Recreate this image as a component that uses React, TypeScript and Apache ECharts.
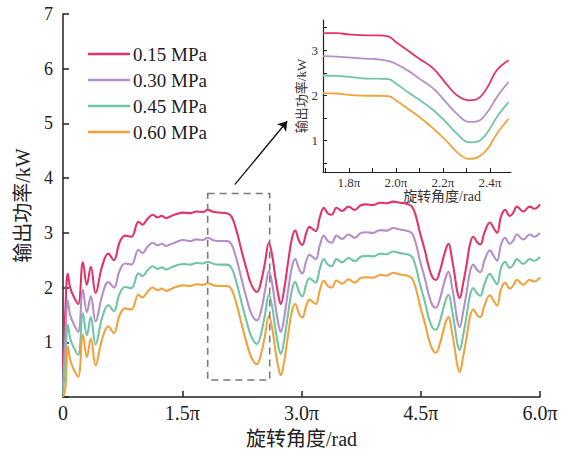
import React, { useEffect, useRef } from "react";
import * as echarts from "echarts";

const seriesNames = ["0.15 MPa", "0.30 MPa", "0.45 MPa", "0.60 MPa"];
const colors = ["#E2336C", "#B58FC9", "#71C5A6", "#F2A23C"];

// main chart x positions (units of π)
const mainX = [
  0.00, 0.03, 0.06, 0.09, 0.13, 0.19, 0.25, 0.30, 0.35, 0.41,
  0.49, 0.57, 0.64, 0.71, 0.78, 0.86, 0.95, 1.00, 1.06, 1.13,
  1.19, 1.24, 1.30, 1.35, 1.42, 1.51, 1.60, 1.68, 1.76, 1.82,
  1.90, 1.98, 2.06, 2.12, 2.19, 2.25, 2.31, 2.37, 2.44, 2.49,
  2.54, 2.59, 2.63, 2.67, 2.71, 2.74, 2.78, 2.83, 2.88, 2.92,
  2.97, 3.01, 3.06, 3.10, 3.14, 3.18, 3.23, 3.28, 3.33, 3.38,
  3.44, 3.51, 3.59, 3.67, 3.74, 3.82, 3.90, 3.99, 4.07, 4.15,
  4.24, 4.32, 4.39, 4.44, 4.49, 4.55, 4.60, 4.65, 4.69, 4.74,
  4.78, 4.82, 4.85, 4.89, 4.93, 4.96, 4.99, 5.03, 5.08, 5.12,
  5.16, 5.21, 5.25, 5.30, 5.37, 5.42, 5.46, 5.51, 5.56, 5.62,
  5.66, 5.71, 5.79, 5.87, 5.93, 6.00,
];

const pink = [
  0.55, 1.60, 2.25, 2.00, 1.85, 1.70, 2.46, 2.05, 2.38, 1.90,
  2.38, 2.62, 2.50, 2.82, 2.95, 2.93, 3.20, 3.15, 3.25, 3.33,
  3.28, 3.31, 3.27, 3.30, 3.34, 3.37, 3.36, 3.39, 3.38, 3.42,
  3.38, 3.37, 3.36, 3.30, 3.00, 2.65, 2.33, 2.05, 1.92, 2.10,
  2.45, 2.82, 2.60, 2.20, 1.85, 1.70, 1.95, 2.45, 2.90, 3.04,
  2.85, 2.78, 3.00, 3.11, 3.07, 3.03, 3.28, 3.46, 3.36, 3.33,
  3.46, 3.40, 3.48, 3.42, 3.50, 3.52, 3.51, 3.55, 3.54, 3.57,
  3.55, 3.53, 3.48, 3.30, 3.00, 2.69, 2.38, 2.18, 2.14, 2.30,
  2.52, 2.72, 2.80, 2.55, 2.20, 1.92, 1.81, 2.05, 2.45, 2.80,
  2.93, 2.83, 2.79, 3.00, 3.19, 3.08, 3.00, 3.30, 3.42, 3.31,
  3.36, 3.48, 3.39, 3.48, 3.44, 3.52,
];

const purple = [
  0.20, 1.10, 1.76, 1.50, 1.35, 1.19, 1.96, 1.55, 1.84, 1.38,
  1.84, 2.10, 2.00, 2.30, 2.44, 2.42, 2.69, 2.63, 2.74, 2.82,
  2.77, 2.80, 2.76, 2.79, 2.83, 2.87, 2.85, 2.88, 2.87, 2.91,
  2.86, 2.85, 2.85, 2.79, 2.48, 2.13, 1.80, 1.52, 1.40, 1.57,
  1.93, 2.30, 2.08, 1.68, 1.33, 1.19, 1.43, 1.93, 2.38, 2.52,
  2.34, 2.26, 2.49, 2.60, 2.56, 2.52, 2.77, 2.95, 2.85, 2.82,
  2.95, 2.89, 2.97, 2.91, 2.99, 3.01, 3.00, 3.05, 3.04, 3.09,
  3.06, 3.04, 2.99, 2.80, 2.49, 2.18, 1.87, 1.67, 1.63, 1.79,
  2.01, 2.21, 2.29, 2.04, 1.69, 1.40, 1.28, 1.53, 1.94, 2.29,
  2.42, 2.32, 2.28, 2.49, 2.68, 2.57, 2.49, 2.79, 2.91, 2.80,
  2.85, 2.97, 2.88, 2.97, 2.93, 3.00,
];

const green = [
  0.05, 0.70, 1.32, 1.07, 0.92, 0.77, 1.53, 1.13, 1.46, 0.96,
  1.44, 1.68, 1.57, 1.88, 2.01, 1.99, 2.26, 2.21, 2.31, 2.39,
  2.34, 2.37, 2.33, 2.36, 2.40, 2.43, 2.42, 2.45, 2.44, 2.47,
  2.43, 2.42, 2.42, 2.36, 2.05, 1.70, 1.38, 1.10, 0.97, 1.15,
  1.50, 1.87, 1.66, 1.26, 0.92, 0.79, 1.02, 1.51, 1.96, 2.10,
  1.92, 1.84, 2.06, 2.17, 2.13, 2.09, 2.34, 2.52, 2.42, 2.39,
  2.52, 2.46, 2.54, 2.48, 2.56, 2.58, 2.57, 2.62, 2.61, 2.66,
  2.63, 2.61, 2.56, 2.37, 2.06, 1.75, 1.45, 1.26, 1.23, 1.38,
  1.60, 1.80, 1.87, 1.62, 1.27, 0.98, 0.86, 1.10, 1.51, 1.86,
  1.99, 1.89, 1.85, 2.06, 2.25, 2.14, 2.06, 2.36, 2.47, 2.36,
  2.41, 2.52, 2.43, 2.52, 2.49, 2.56,
];

const orange = [
  0.00, 0.15, 0.92, 0.68, 0.52, 0.37, 1.14, 0.73, 1.07, 0.58,
  1.05, 1.29, 1.17, 1.49, 1.62, 1.60, 1.87, 1.82, 1.92, 2.00,
  1.95, 1.98, 1.94, 1.97, 2.01, 2.04, 2.03, 2.06, 2.05, 2.08,
  2.04, 2.03, 2.03, 1.97, 1.66, 1.31, 0.99, 0.72, 0.60, 0.78,
  1.12, 1.48, 1.27, 0.87, 0.53, 0.40, 0.63, 1.12, 1.57, 1.70,
  1.52, 1.45, 1.67, 1.78, 1.74, 1.70, 1.95, 2.13, 2.03, 2.00,
  2.13, 2.07, 2.15, 2.09, 2.17, 2.19, 2.18, 2.23, 2.22, 2.27,
  2.24, 2.22, 2.17, 1.98, 1.67, 1.36, 1.06, 0.86, 0.81, 0.97,
  1.19, 1.39, 1.46, 1.21, 0.86, 0.58, 0.46, 0.71, 1.12, 1.47,
  1.60, 1.50, 1.46, 1.67, 1.86, 1.75, 1.67, 1.97, 2.09, 1.98,
  2.03, 2.14, 2.05, 2.14, 2.11, 2.19,
];

// inset (zoomed) chart
const insetX = [1.69, 1.75, 1.80, 1.88, 1.92, 1.97, 2.00, 2.06, 2.10, 2.16, 2.22, 2.26, 2.31, 2.35, 2.39, 2.43, 2.48];
const insetPink = [3.38, 3.38, 3.35, 3.33, 3.33, 3.30, 3.18, 2.96, 2.81, 2.59, 2.22, 2.00, 1.89, 1.93, 2.18, 2.56, 2.78];
const insetPurple = [2.87, 2.86, 2.84, 2.81, 2.80, 2.76, 2.70, 2.52, 2.37, 2.15, 1.81, 1.59, 1.41, 1.43, 1.63, 1.96, 2.30];
const insetGreen = [2.44, 2.43, 2.41, 2.37, 2.37, 2.36, 2.26, 2.04, 1.90, 1.67, 1.37, 1.15, 0.96, 0.98, 1.18, 1.52, 1.85];
const insetOrange = [2.05, 2.04, 2.01, 1.99, 1.99, 1.98, 1.89, 1.67, 1.52, 1.26, 0.96, 0.74, 0.59, 0.63, 0.81, 1.15, 1.48];

const mainXTicks = [0, 1.5, 3.0, 4.5, 6.0];
const insetXTicks = [1.7, 1.8, 1.9, 2.0, 2.1, 2.2, 2.3, 2.4];
const insetXLabels = [1.8, 2.0, 2.2, 2.4];
const insetYTicks = [0.5, 1, 1.5, 2, 2.5, 3, 3.5];
const insetYLabels = [1, 2, 3];

// zoom box & arrow (data coordinates)
const zoomBox = [[1.82, 3.72], [2.60, 0.31]];
const arrowLine = [[2.16, 3.88], [2.82, 5.04]];

const SERIF = "'Liberation Serif', 'Times New Roman', 'Noto Sans CJK SC', serif";
const AX = "#222";

function pairs(xs: number[], ys: number[]) {
  const n = Math.min(xs.length, ys.length);
  const out: number[][] = [];
  for (let i = 0; i < n; i++) out.push([xs[i], ys[i]]);
  return out;
}

export default function App() {
  const ref = useRef<HTMLDivElement>(null);
  useEffect(() => {
    const chart = echarts.init(ref.current!, null, { renderer: "svg" });
    const mainData = [pink, purple, green, orange];
    const insetData = [insetPink, insetPurple, insetGreen, insetOrange];
    const series: any[] = [];
    mainData.forEach((d, i) => {
      const s: any = {
        name: seriesNames[i],
        type: "line",
        xAxisIndex: 0,
        yAxisIndex: 0,
        data: pairs(mainX, d),
        symbol: "none",
        smooth: 0.4,
        color: colors[i],
        lineStyle: { width: 2.1, color: colors[i] },
        z: 3,
      };
      if (i === 0) {
        s.markArea = {
          silent: true,
          z: 5,
          label: { show: false },
          itemStyle: {
            color: "rgba(0,0,0,0)",
            borderColor: "#7a7a7a",
            borderWidth: 1.6,
            borderType: [7, 5],
          },
          data: [[{ coord: zoomBox[0] }, { coord: zoomBox[1] }]],
        };
        s.markLine = {
          silent: true,
          symbol: ["none", "arrow"],
          symbolSize: 9,
          label: { show: false },
          lineStyle: { color: "#111", width: 1.3, type: "solid" },
          data: [[{ coord: arrowLine[0] }, { coord: arrowLine[1] }]],
        };
      }
      series.push(s);
    });
    insetData.forEach((d, i) => {
      series.push({
        name: "inset " + seriesNames[i],
        type: "line",
        xAxisIndex: 1,
        yAxisIndex: 1,
        data: pairs(insetX, d),
        symbol: "none",
        smooth: 0.4,
        color: colors[i],
        lineStyle: { width: 1.8, color: colors[i] },
      });
    });

    chart.setOption({
      animation: false,
      backgroundColor: "#ffffff",
      textStyle: { fontFamily: SERIF },
      legend: {
        data: seriesNames.map((n, i) => ({ name: n, itemStyle: { color: colors[i] } })),
        orient: "vertical",
        left: 88,
        top: 41,
        padding: 0,
        icon: "rect",
        itemWidth: 42,
        itemHeight: 2.5,
        itemGap: 0,
        textStyle: { fontSize: 19, lineHeight: 26, color: AX, fontFamily: SERIF, padding: [0, 0, 0, -2] },
      },
      grid: [
        { left: 63, top: 14, width: 477, height: 383, containLabel: false },
        { left: 323, top: 20, width: 188, height: 152, containLabel: false },
      ],
      xAxis: [
        {
          gridIndex: 0,
          type: "value",
          min: 0,
          max: 6,
          interval: 1.5,
          axisLine: { lineStyle: { color: AX, width: 1.5 } },
          axisTick: { inside: true, length: 6, lineStyle: { color: AX, width: 1.5 }, customValues: mainXTicks },
          axisLabel: {
            customValues: mainXTicks,
            fontSize: 20,
            margin: 6,
            color: AX,
            fontFamily: SERIF,
            formatter: (v: number) => (v === 0 ? "0" : v.toFixed(1) + "π"),
          },
          splitLine: { show: false },
          name: "旋转角度/rad",
          nameLocation: "middle",
          nameGap: 32,
          nameTextStyle: { fontSize: 20, color: AX, fontFamily: SERIF },
        },
        {
          gridIndex: 1,
          type: "value",
          min: 1.69,
          max: 2.49,
          axisLine: { lineStyle: { color: AX, width: 1.2 } },
          axisTick: { inside: true, length: 4, lineStyle: { color: AX, width: 1 }, customValues: insetXTicks },
          axisLabel: {
            customValues: insetXLabels,
            fontSize: 13,
            margin: 4,
            color: "#333",
            fontFamily: SERIF,
            formatter: (v: number) => v.toFixed(1) + "π",
          },
          splitLine: { show: false },
          name: "旋转角度/rad",
          nameLocation: "middle",
          nameGap: 16,
          nameTextStyle: { fontSize: 14, color: "#333", fontFamily: SERIF, padding: [0, 0, 0, 50] },
        },
      ],
      yAxis: [
        {
          gridIndex: 0,
          type: "value",
          min: 0,
          max: 7,
          interval: 1,
          axisLine: { show: true, lineStyle: { color: AX, width: 1.5 } },
          axisTick: { show: true, inside: true, length: 6, lineStyle: { color: AX, width: 1.5 } },
          axisLabel: {
            fontSize: 18,
            margin: 10,
            color: AX,
            fontFamily: SERIF,
            formatter: (v: number) => (v === 0 ? "" : String(v)),
          },
          splitLine: { show: false },
          name: "输出功率/kW",
          nameLocation: "middle",
          nameGap: 28,
          nameTextStyle: { fontSize: 20, color: AX, fontFamily: SERIF },
        },
        {
          gridIndex: 1,
          type: "value",
          min: 0.3,
          max: 3.67,
          axisLine: { show: true, lineStyle: { color: AX, width: 1.2 } },
          axisTick: { show: true, inside: true, length: 4, lineStyle: { color: AX, width: 1 }, customValues: insetYTicks },
          axisLabel: {
            customValues: insetYLabels,
            fontSize: 13,
            margin: 5,
            color: "#333",
            fontFamily: SERIF,
          },
          splitLine: { show: false },
          name: "输出功率/kW",
          nameLocation: "middle",
          nameGap: 13,
          nameTextStyle: { fontSize: 13, color: "#333", fontFamily: SERIF },
        },
      ],
      series,
    });
    return () => chart.dispose();
  }, []);
  return (
    <div
      ref={ref}
      style={{ position: "fixed", left: 0, top: 0, width: 573, height: 457, background: "#fff" }}
    />
  );
}
